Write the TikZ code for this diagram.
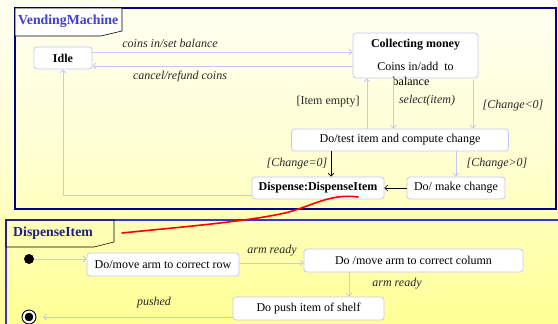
\documentclass[tikz,border=0pt]{standalone}
\usepackage{fontspec}
\setmainfont{Liberation Serif}
\usetikzlibrary{arrows.meta}
\definecolor{lav}{HTML}{C8C8F4}
\definecolor{navyf}{HTML}{000090}
\definecolor{bluef}{HTML}{3838C8}
\definecolor{titleA}{HTML}{4040D0}
\definecolor{titleB}{HTML}{202080}
\definecolor{lbl}{HTML}{282828}
\tikzset{
  sbox/.style={draw=lav, fill=white, rounded corners=3pt, inner sep=0pt, line width=0.8pt,
    font=\fontsize{12}{14}\selectfont},
  tr/.style={draw=lav, line width=0.8pt, -{Straight Barb[length=3pt,width=6pt]}},
  trb/.style={draw=black, line width=0.7pt, -{Straight Barb[length=3pt,width=6pt]}},
  lab/.style={font=\fontsize{12}{14}\selectfont\itshape, text=lbl, inner sep=0pt},
  labu/.style={font=\fontsize{12}{14}\selectfont, text=lbl, inner sep=0pt},
  ttl/.style={font=\fontsize{13.8}{15}\selectfont\bfseries, inner sep=0pt},
}
\begin{document}
\begin{tikzpicture}[x=1pt,y=-1pt]
\useasboundingbox (0,0) rectangle (558,324);
\shade[top color=yellow!5!white, bottom color=yellow!42!white, middle color=yellow!18!white] (0,0) rectangle (558,324);
% top frame
\draw[navyf, line width=2.5pt] (15,8) rectangle (556,209);
\draw[black, line width=0.6pt, fill=white] (15,8) -- (122,8) -- (122,31) -- (101,36) -- (15,36) -- cycle;
\node[ttl, text=titleA, anchor=west] (vmt) at (18,21.5) {VendingMachine};
% lower frame
\draw[bluef, line width=2pt] (6,220) rectangle (562,330);
\draw[black, line width=0.6pt] (6,220) -- (114,220) -- (114,242) -- (94,247) -- (6,247) -- cycle;
\node[ttl, text=titleB, anchor=west] (dit) at (13,233.5) {DispenseItem};
% states top
\node[sbox, minimum width=58pt, minimum height=22pt, font=\fontsize{12}{14}\selectfont\bfseries] (idle) at (63,58) {Idle};
\node[sbox, minimum width=125pt, minimum height=45pt] (coll) at (415.5,55.5) {};
\node[font=\fontsize{12}{14}\selectfont\bfseries, inner sep=0pt] (collt) at (415.5,45) {Collecting money};
\node[font=\fontsize{12}{14}\selectfont, inner sep=0pt] (colla) at (415.5,66) {Coins in/add\ \ to};
\node[font=\fontsize{12}{14}\selectfont, inner sep=0pt] (collb) at (411,81) {balance};
\node[sbox, minimum width=217pt, minimum height=22pt] (test) at (400,140) {Do/test item and compute change};
\node[sbox, minimum width=132pt, minimum height=22pt, font=\fontsize{12}{14}\selectfont\bfseries] (disp) at (318,188) {Dispense:DispenseItem};
\node[sbox, minimum width=98pt, minimum height=22pt] (make) at (456,188) {Do/ make change};
% transitions top
\draw[tr] ([yshift=6pt]idle.east) -- ([yshift=6pt]idle.east -| coll.west);
\draw[tr] ([yshift=-10.5pt]coll.west) -- ([yshift=-10.5pt]coll.west -| idle.east);
\draw[tr] ([xshift=-33pt]test.north) -- ([xshift=-33pt]test.north |- coll.south);
\draw[tr] ([xshift=-22pt]coll.south) -- ([xshift=-22pt]coll.south |- test.north);
\draw[tr] ([xshift=57.5pt,yshift=-2pt]coll.south) -- ([xshift=57.5pt]coll.south |- test.north);
\draw[trb] ([xshift=-69pt]test.south) -- ([xshift=-69pt]test.south |- disp.north);
\draw[tr] (test.south -| make.north) -- (make.north);
\draw[trb, line width=0.5pt] (make.west) -- (disp.east);
\draw[tr] ([yshift=-7pt]disp.west) -| (idle.south);
\node[lab] (l1) at (170,43) {coins in/set balance};
\node[lab] (l2) at (180,77) {cancel/refund coins};
\node[labu] (l3) at (328,102) {[Item empty]};
\node[lab] (l4) at (427,101) {select(item)};
\node[lab] (l5) at (513,106) {[Change<0]};
\node[lab] (l6) at (297,164) {[Change=0]};
\node[lab] (l7) at (497,164) {[Change>0]};
% lower states
\fill[black] (29,259) circle (5pt);
\coordinate (init) at (34,259);
\node[sbox, minimum width=152pt, minimum height=23pt] (row) at (163,264.5) {Do/move arm to correct row};
\node[sbox, minimum width=219pt, minimum height=23pt] (col) at (413.5,260.5) {Do /move arm to correct column};
\node[sbox, minimum width=151pt, minimum height=23pt] (push) at (308.5,308.5) {Do push item of shelf};
\draw[black, line width=0.9pt, fill=white] (29,317) circle (7pt);
\fill[black] (29,317) circle (4.3pt);
\coordinate (fin) at (43,317);
\draw[tr] (init) -- (init -| row.west);
\draw[tr] ([yshift=1.5pt]row.east) -- ([yshift=1.5pt]row.east -| col.west);
\draw[tr] ([xshift=-64.5pt]col.south) -- ([xshift=-64.5pt]col.south |- push.north);
\draw[tr] ([yshift=-8.5pt]push.west) -- (fin);
\node[lab] (l8) at (272,251) {arm ready};
\node[lab] (l9) at (397,284) {arm ready};
\node[lab] (l10) at (154,303) {pushed};
% red annotation
\coordinate (r0) at (358,197);
\coordinate (r1) at (285,213);
\coordinate (r2) at (122,233);
\draw[red, line width=1.6pt, line cap=round] (r0) .. controls (330,193) and (310,207) .. (r1) .. controls (245,222) and (170,228) .. (r2);
\end{tikzpicture}
\end{document}
